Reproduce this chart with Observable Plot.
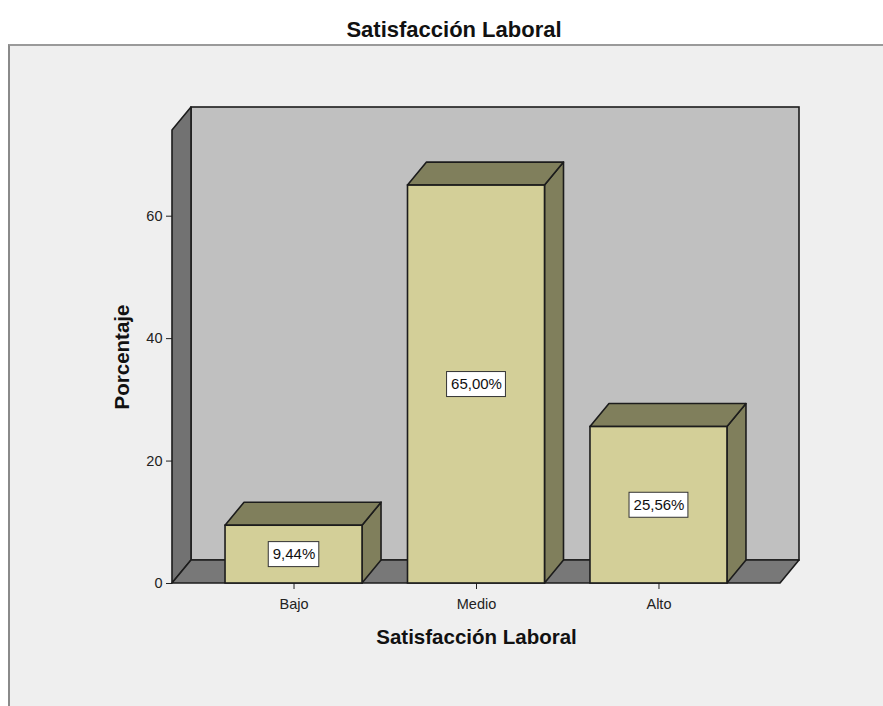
<!DOCTYPE html>
<html lang="es">
<head>
<meta charset="utf-8">
<title>Satisfacción Laboral</title>
<script src="https://cdn.jsdelivr.net/npm/d3@7"></script>
<script src="https://cdn.jsdelivr.net/npm/@observablehq/plot@0.6"></script>
<style>
  html, body { margin: 0; padding: 0; background: #ffffff; }
  body { width: 883px; height: 706px; position: relative; overflow: hidden;
         font-family: "Liberation Sans", Arial, sans-serif; }
  #title { position: absolute; top: 17px; left: 454px; transform: translateX(-50%);
           font-size: 22px; font-weight: bold; color: #111; white-space: nowrap; line-height: 26px; }
  #panel { position: absolute; left: 8px; top: 44px; width: 900px; height: 700px;
           background: #efefef; border-top: 2px solid #9a9a9a; border-left: 2px solid #8a8a8a; }
  #panel svg { position: absolute; left: 0; top: 0; }
</style>
</head>
<body>
<div id="title">Satisfacción Laboral</div>
<div id="panel"></div>
<script>
// Frequencies of job satisfaction level (percent of respondents)
const categories = ["Bajo", "Medio", "Alto"];
const percentages = [9.44, 65.00, 25.56];
const yTicks = [0, 20, 40, 60];
const yMax = 74;

const xTitle = "Satisfacción Laboral";
const yTitle = "Porcentaje";

// Layout of the SVG and the pseudo‑3D depth (pixels)
const W = 873, H = 660;
const mL = 162, mR = 103, mT = 84, mB = 123;
const plotW = W - mL - mR, plotH = H - mT - mB;
const xDomain = [-0.666, 2.666];
const depthPx = [19, 23];
const barHalfPx = 68.5;

// Convert pixel depths into data units of each scale
const ux = (xDomain[1] - xDomain[0]) / plotW;
const uy = yMax / plotH;
const DX = depthPx[0] * ux;
const DY = depthPx[1] * uy;
const half = barHalfPx * ux;
const [x0, x1] = xDomain;

const bars = categories.map((cat, i) => ({cat, i, value: percentages[i]}));
const fmt = v => v.toFixed(2).replace(".", ",") + "%";

// Walls and floor of the box
const backWall = [{x1: x0 + DX, x2: x1 + DX, y1: DY, y2: yMax + DY}];
const leftWall = [
  {x: x0, y1: 0, y2: yMax},
  {x: x0 + DX, y1: DY, y2: yMax + DY}
];
const floor = [
  {y: 0, xa: x0, xb: x1},
  {y: DY, xa: x0 + DX, xb: x1 + DX}
];

// Faces of each bar
const sideFaces = bars.flatMap(d => [
  {k: d.cat, x: d.i + half, y1: 0, y2: d.value},
  {k: d.cat, x: d.i + half + DX, y1: DY, y2: d.value + DY}
]);
const topFaces = bars.flatMap(d => [
  {k: d.cat, y: d.value, xa: d.i - half, xb: d.i + half},
  {k: d.cat, y: d.value + DY, xa: d.i - half + DX, xb: d.i + half + DX}
]);

// Label boxes sized to the measured text
const labelFont = "15px 'Liberation Sans', Arial, sans-serif";
const ctx = document.createElement("canvas").getContext("2d");
ctx.font = labelFont;
const boxes = bars.map(d => {
  const w = ctx.measureText(fmt(d.value)).width + 8;
  const hw = (w / 2) * ux, hh = 12.5 * uy;
  return {x1: d.i - hw, x2: d.i + hw, y1: d.value / 2 - hh, y2: d.value / 2 + hh};
});

const edge = "#1c1c1c";
const edgeW = 1.6;
const front = "#d3cf98";
const shade = "#807f5c";

const chart = Plot.plot({
  width: W,
  height: H,
  marginLeft: mL,
  marginRight: mR,
  marginTop: mT,
  marginBottom: mB,
  style: {background: "transparent", fontSize: "14.5px", fontFamily: "'Liberation Sans', Arial, sans-serif", color: "#222"},
  x: {type: "linear", domain: xDomain, ticks: [0, 1, 2], tickFormat: i => categories[i],
      tickSize: 6, tickPadding: 9, label: null},
  y: {domain: [0, yMax], ticks: yTicks, tickSize: 6, tickPadding: 4, label: null},
  marks: [
    Plot.rect(backWall, {x1: "x1", x2: "x2", y1: "y1", y2: "y2", fill: "#c0c0c0", stroke: edge, strokeWidth: edgeW}),
    Plot.area(leftWall, {x1: "x", y1: "y1", y2: "y2", fill: "#727272", stroke: edge, strokeWidth: edgeW, strokeLinejoin: "round"}),
    Plot.area(floor, {y1: "y", x1: "xa", x2: "xb", fill: "#787878", stroke: edge, strokeWidth: edgeW, strokeLinejoin: "round"}),
    Plot.area(sideFaces, {x1: "x", y1: "y1", y2: "y2", z: "k", fill: shade, stroke: edge, strokeWidth: edgeW, strokeLinejoin: "round"}),
    Plot.area(topFaces, {y1: "y", x1: "xa", x2: "xb", z: "k", fill: shade, stroke: edge, strokeWidth: edgeW, strokeLinejoin: "round"}),
    Plot.rect(bars, {x1: d => d.i - half, x2: d => d.i + half, y1: 0, y2: "value", fill: front, stroke: edge, strokeWidth: edgeW}),
    Plot.rect(boxes, {x1: "x1", x2: "x2", y1: "y1", y2: "y2", fill: "white", stroke: "#333", strokeWidth: 1}),
    Plot.text(bars, {x: "i", y: d => d.value / 2, text: d => fmt(d.value), fontSize: 15, fill: "#111"}),
    Plot.text([yTitle], {frameAnchor: "left", textAnchor: "middle", lineAnchor: "middle", rotate: -90, dx: -50,
                         fontSize: 20.5, fontWeight: "bold", fill: "#111"}),
    Plot.text([xTitle], {frameAnchor: "bottom", textAnchor: "middle", lineAnchor: "middle", dy: 54,
                         fontSize: 20.5, fontWeight: "bold", fill: "#111"})
  ]
});

document.getElementById("panel").appendChild(chart);
</script>
</body>
</html>
